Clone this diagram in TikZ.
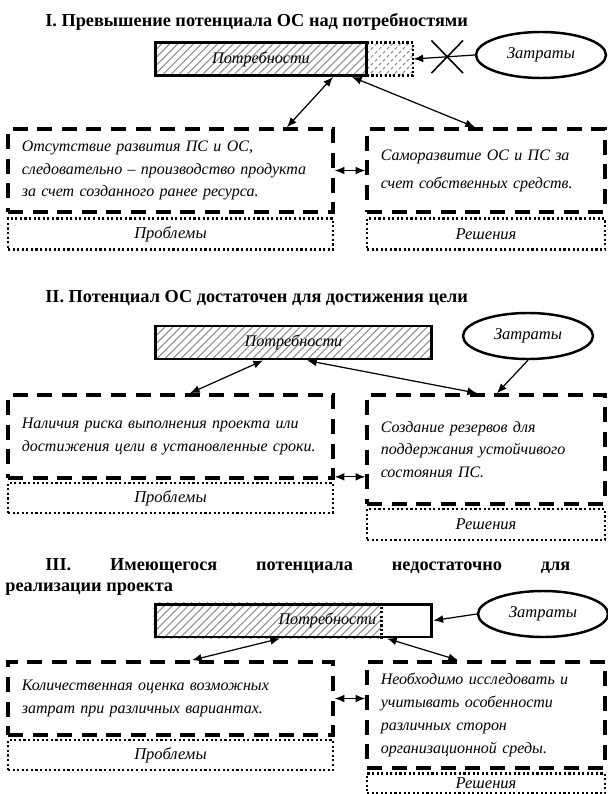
\documentclass[tikz,border=0pt]{standalone}
\usepackage{fontspec}
\setmainfont{Liberation Serif}
\usetikzlibrary{shapes,arrows,positioning,calc,patterns,patterns.meta}
\usetikzlibrary{shapes.geometric,shapes.misc}
\usetikzlibrary{backgrounds}
\usetikzlibrary{arrows.meta}

\begin{document}
\begin{tikzpicture}[
    x=0.02cm, y=-0.02cm,
    heading/.style={anchor=west, inner sep=0pt, font=\fontsize{10.4}{13}\selectfont\bfseries},
    hatch/.style={pattern={Lines[angle=45,distance=3.2pt,line width=0.6pt]}, pattern color=black!45},
    needs/.style={rectangle, draw, line width=1.7pt, minimum width=5.54cm, minimum height=0.66cm, inner sep=0pt, font=\fontsize{9.2}{12}\selectfont\itshape},
    spare/.style={rectangle, draw, line width=1.4pt, dash pattern=on 1.2pt off 1.3pt, minimum width=0.92cm, minimum height=0.66cm, hatch},
    cost/.style={ellipse, draw, line width=1.4pt, minimum width=2.6cm, minimum height=0.92cm, inner sep=0pt, font=\fontsize{9.4}{12}\selectfont\itshape},
    crossmark/.style={cross out, draw, line width=0.9pt, minimum width=0.6cm, minimum height=0.62cm, inner sep=0pt},
    probbox/.style={rectangle, draw, line width=2.1pt, dash pattern=on 8.5pt off 5.5pt, minimum width=6.5cm, text width=5.95cm, inner xsep=0.275cm, align=left, font=\fontsize{9.1}{13}\selectfont\itshape},
    solbox/.style={probbox, minimum width=4.76cm, text width=4.21cm},
    probtag/.style={rectangle, draw, line width=1.2pt, dash pattern=on 1.2pt off 1.4pt, minimum width=6.5cm, minimum height=0.62cm, inner sep=0pt, font=\fontsize{9.4}{12}\selectfont\itshape},
    soltag/.style={probtag, minimum width=4.76cm},
    link/.style={{Latex[length=5.5pt,width=4.5pt]}-{Latex[length=5.5pt,width=4.5pt]}, line width=0.7pt},
    feed/.style={-{Latex[length=5.5pt,width=4.5pt]}, line width=0.7pt}
]
\useasboundingbox (0,0) rectangle (608,794);

% I. potential above needs
\node[heading] (head1) at (45,22) {I. Превышение потенциала ОС над потребностями};
\node[spare] (spare1) at (390,59) {};
\node[needs, hatch, minimum width=4.24cm] (needs1) at (261,59) {Потребности};
\node[cost] (cost1) at (541,55) {Затраты};
\draw[feed] (cost1.west) -- (spare1.east);
\node[crossmark] (cross1) at ($(cost1.west)!0.45!(spare1.east)$) {};

\node[probbox, minimum height=1.66cm] (prob1) at (170.5,170.5) {Отсутствие развития ПС и ОС,\\следовательно -- производство продукта\\за счет созданного ранее ресурса.};
\node[solbox, minimum height=1.66cm] (sol1) at (486,170.5) {Саморазвитие ОС и ПС за\\[3pt]счет собственных средств.};
\node[probtag] (probtag1) at (170.5,234) {Проблемы};
\node[soltag] (soltag1) at (486,234) {Решения};
\draw[link] (prob1.east) -- (sol1.west);
\draw[link] ([xshift=1.44cm]needs1.south) -- ([xshift=2.33cm]prob1.north);
\draw[link] ([xshift=1.82cm]needs1.south) -- ([xshift=-0.22cm]sol1.north);

% II. potential is enough
\node[heading] (head2) at (45,298) {II. Потенциал ОС достаточен для достижения цели};
\node[needs, hatch] (needs2) at (293.5,342.5) {Потребности};
\node[cost] (cost2) at (528,336) {Затраты};

\node[probbox, minimum height=1.66cm] (prob2) at (170.5,436.5) {Наличия риска выполнения проекта или\\достижения цели в установленные сроки.};
\node[solbox, minimum height=2.18cm] (sol2) at (486,449.5) {Создание резервов для\\поддержания устойчивого\\состояния ПС.};
\node[probtag, minimum height=0.6cm] (probtag2) at (170.5,498) {Проблемы};
\node[soltag] (soltag2) at (486,524.5) {Решения};
\draw[link] ([yshift=0.06cm]prob2.south east) -- ([yshift=0.06cm]prob2.south east -| sol2.west);
\draw[link] ([xshift=-0.61cm]needs2.south) -- ([xshift=0.39cm]prob2.north);
\draw[link] ([xshift=0.27cm]needs2.south) -- ([xshift=-0.18cm]sol2.north);
\draw[feed] (cost2.south) -- ([xshift=0.22cm]sol2.north);

% III. potential is not enough
\node[heading] (head3) at (45,566) {\makebox[10.5cm][s]{III. Имеющегося потенциала недостаточно для}};
\node[heading] (head3b) at (5,589) {реализации проекта};
\node[needs] (needs3) at (293.5,620.5) {};
\begin{pgfonlayer}{background}
\fill[hatch] (needs3.north west) rectangle ([xshift=4.56cm]needs3.south west);
\end{pgfonlayer}
\draw[line width=1.4pt, dash pattern=on 1.2pt off 1.3pt] ([xshift=4.56cm]needs3.north west) -- ([xshift=4.56cm]needs3.south west);
\node[anchor=east, inner sep=0pt, font=\fontsize{9.2}{12}\selectfont\itshape] (needslbl3) at ([xshift=4.46cm]needs3.west) {Потребности};
\node[cost] (cost3) at (543,614) {Затраты};
\draw[feed] (cost3.west) -- (needs3.east);

\node[probbox, minimum height=1.46cm] (prob3) at (170.5,698.5) {Количественная оценка возможных\\затрат при различных вариантах.};
\node[solbox, minimum height=2.12cm] (sol3) at (486,715) {Необходимо исследовать и\\учитывать особенности\\различных сторон\\организационной среды.};
\node[probtag, minimum height=0.6cm] (probtag3) at (170.5,755) {Проблемы};
\node[soltag, minimum height=0.4cm] (soltag3) at (486,783.5) {Решения};
\draw[link] (prob3.east) -- (prob3.east -| sol3.west);
\draw[link] ([xshift=-0.27cm]needs3.south) -- ([xshift=0.43cm]prob3.north);
\draw[link] ([xshift=1.87cm]needs3.south) -- ([xshift=-0.56cm]sol3.north);

\end{tikzpicture}
\end{document}
